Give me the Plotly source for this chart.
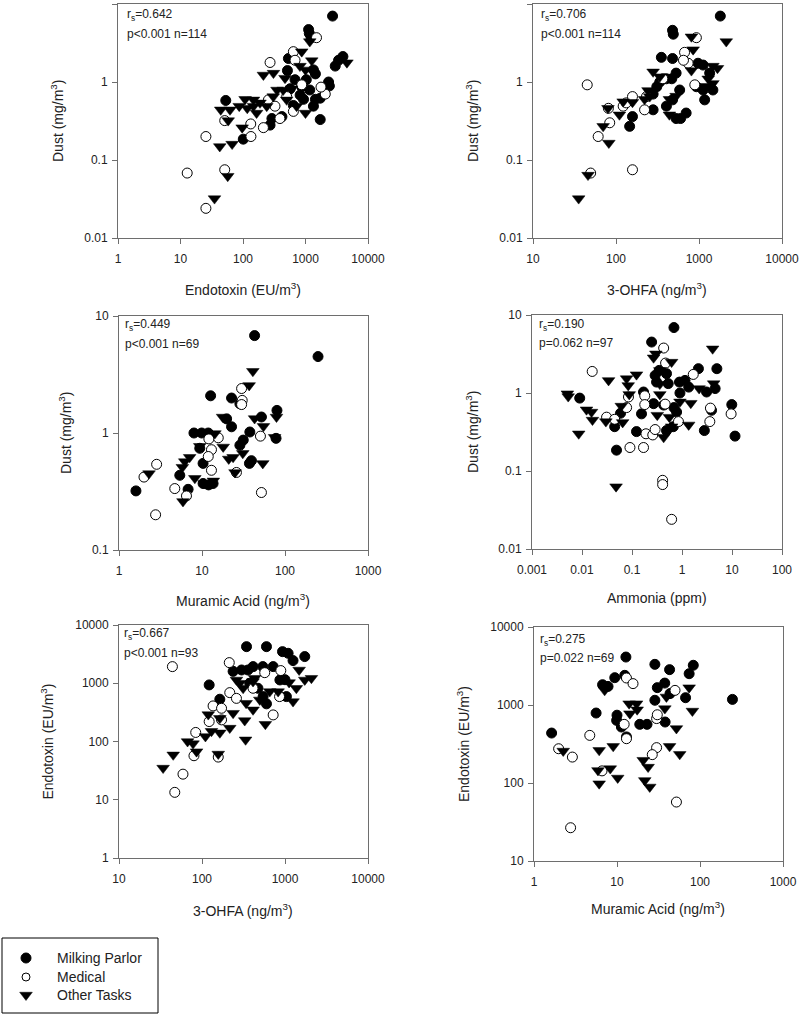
import math
import plotly.graph_objects as go

# ---------------- DATA ----------------
# Panel 1: Endotoxin (EU/m3) vs Dust (mg/m3)
p1_mp_x = [2710, 1120, 1150, 1230, 3970, 3380, 2990, 2340, 2410, 1720, 533, 514, 1340, 1440, 1030, 568, 820, 1440, 1340, 930, 53, 101, 271, 290, 420, 1170, 680, 1720, 870, 640]
p1_mp_y = [7.0, 4.7, 4.2, 3.7, 2.12, 1.9, 1.6, 1.0, 0.89, 0.33, 2.0, 1.4, 1.43, 1.27, 1.07, 0.82, 0.68, 0.6, 0.49, 0.6, 0.58, 0.185, 0.28, 0.34, 0.36, 0.79, 1.07, 0.62, 0.87, 0.5]
p1_md_x = [1500, 640, 680, 271, 2070, 1770, 640, 390, 212, 133, 134, 25.5, 12.8, 51, 25.5, 51, 255, 500, 325, 870]
p1_md_y = [3.7, 2.45, 1.9, 1.78, 0.7, 0.86, 0.42, 0.34, 0.26, 0.29, 0.2, 0.2, 0.068, 0.075, 0.024, 0.32, 0.59, 0.65, 0.49, 0.92]
p1_ot_x = [1170, 870, 1260, 212, 307, 4600, 815, 1000, 470, 350, 440, 600, 305, 187, 147, 108, 87, 117, 62, 44, 58, 97, 42.5, 67, 57, 35, 1000, 720, 240, 165, 500, 147]
p1_ot_y = [3.3, 2.45, 1.88, 1.23, 1.3, 1.77, 1.6, 1.43, 1.12, 0.79, 0.79, 0.82, 0.65, 0.54, 0.59, 0.6, 0.49, 0.46, 0.44, 0.44, 0.32, 0.26, 0.149, 0.16, 0.062, 0.032, 0.4, 0.49, 0.49, 0.4, 0.59, 0.49]

# Panel 2: 3-OHFA (ng/m3) vs Dust (mg/m3)
p2_mp_x = [1806, 480, 490, 352, 480, 973, 1120, 1345, 530, 405, 337, 310, 585, 930, 1120, 1470, 1170, 480, 280, 405, 146, 158, 530, 600, 700, 280, 470]
p2_mp_y = [7.0, 4.6, 4.1, 2.07, 2.0, 1.74, 1.65, 1.3, 1.3, 1.1, 1.0, 0.87, 0.79, 0.87, 0.79, 0.79, 0.59, 0.59, 0.44, 0.49, 0.27, 0.36, 0.34, 0.34, 0.40, 0.7, 1.1]
p2_md_x = [930, 670, 740, 650, 890, 45, 81, 84, 61, 49.5, 158, 221, 122, 133, 233, 158, 367]
p2_md_y = [3.7, 2.4, 1.74, 1.9, 0.92, 0.92, 0.46, 0.3, 0.2, 0.068, 0.075, 0.44, 0.49, 0.54, 0.65, 0.65, 1.1]
p2_ot_x = [2130, 850, 810, 1670, 1470, 1290, 1470, 1220, 530, 440, 440, 255, 221, 280, 337, 243, 158, 122, 110, 80, 70, 82, 46, 35.5, 810]
p2_ot_y = [3.3, 2.6, 3.8, 1.5, 1.6, 1.1, 0.96, 0.88, 0.66, 0.6, 0.38, 0.65, 0.6, 1.35, 1.17, 0.78, 0.55, 0.56, 0.38, 0.46, 0.27, 0.165, 0.064, 0.032, 1.4]

# Panel 3: Muramic Acid (ng/m3) vs Dust (mg/m3)
p3_mp_x = [43, 250, 12.7, 22.7, 28.6, 80, 19.8, 22.7, 52, 37.7, 8, 9.9, 11.9, 9.4, 10.3, 5.4, 6.8, 1.6, 28.6, 31.4, 39.4, 37.3, 78, 10.3, 13.6, 12]
p3_mp_y = [6.8, 4.5, 2.08, 1.99, 1.78, 1.56, 1.32, 1.13, 1.37, 1.02, 1.0, 1.0, 1.0, 0.74, 0.55, 0.435, 0.33, 0.32, 0.785, 0.87, 0.58, 0.55, 0.9, 0.37, 0.37, 0.36]
p3_md_x = [30, 30.5, 30, 15.7, 12.1, 13, 11.9, 13, 26, 50.6, 52, 2.84, 2.0, 4.7, 6.5, 2.76]
p3_md_y = [2.4, 1.9, 1.75, 0.91, 0.89, 0.72, 0.63, 0.48, 0.46, 0.94, 0.31, 0.54, 0.42, 0.335, 0.29, 0.2]
p3_ot_x = [41, 37, 17.7, 43, 55, 79, 75, 14.3, 9.4, 18, 21, 23.7, 31, 54, 25, 7.1, 6.2, 5.8, 8.2, 10.6, 13.7, 5.9, 2.3]
p3_ot_y = [3.37, 2.55, 1.37, 1.33, 1.14, 1.37, 0.92, 0.99, 0.77, 0.76, 0.6, 0.62, 0.67, 0.55, 0.46, 0.62, 0.57, 0.51, 0.41, 0.37, 0.39, 0.26, 0.45]

# Panel 4: Ammonia (ppm) vs Dust (mg/m3)
p4_mp_x = [0.69, 0.247, 2.13, 4.98, 0.29, 0.35, 0.49, 0.53, 0.31, 0.89, 1.15, 1.36, 4.6, 3.1, 0.91, 0.17, 0.27, 0.43, 0.69, 0.78, 0.67, 0.155, 0.059, 0.045, 0.123, 0.049, 0.009, 9.9, 11.5, 2.8, 3.9, 0.49]
p4_mp_y = [6.9, 4.5, 2.05, 2.05, 1.68, 1.95, 1.77, 1.32, 1.38, 1.38, 1.45, 1.19, 1.14, 1.03, 1.0, 1.03, 0.73, 0.7, 0.65, 0.57, 0.37, 0.54, 0.55, 0.37, 0.32, 0.185, 0.86, 0.71, 0.28, 0.33, 0.6, 0.33]
p4_md_x = [0.43, 0.47, 1.68, 0.016, 0.085, 0.078, 0.18, 0.18, 0.46, 0.85, 0.031, 0.045, 0.19, 0.26, 0.29, 0.091, 0.17, 0.41, 0.41, 0.62, 3.7, 3.6, 9.6]
p4_md_y = [3.77, 2.42, 1.73, 1.89, 0.89, 0.65, 0.92, 0.71, 0.72, 0.43, 0.49, 0.46, 0.3, 0.29, 0.34, 0.2, 0.2, 0.076, 0.067, 0.024, 0.64, 0.43, 0.54]
p4_ot_x = [4.1, 0.3, 0.27, 0.62, 0.36, 0.123, 0.078, 0.034, 0.084, 0.088, 0.36, 0.91, 1.5, 2.2, 4.3, 0.0051, 0.0053, 0.0123, 0.0155, 0.0162, 0.03, 0.061, 0.065, 0.0086, 0.43, 0.32, 0.56, 1.36, 0.62, 0.048, 0.36]
p4_ot_y = [3.69, 3.18, 2.83, 2.49, 1.95, 1.72, 1.53, 1.45, 1.25, 0.96, 0.96, 0.77, 0.74, 1.14, 1.32, 0.98, 0.9, 0.61, 0.57, 0.45, 0.43, 0.68, 0.42, 0.3, 0.27, 0.52, 0.49, 0.39, 0.37, 0.063, 1.3]

# Panel 5: 3-OHFA (ng/m3) vs Endotoxin (EU/m3)
p5_mp_x = [122, 164, 344, 598, 933, 1090, 1250, 1730, 413, 541, 720, 868, 1000, 358, 300, 376, 598, 1040, 472, 545, 237]
p5_mp_y = [936, 532, 4250, 4250, 3490, 3270, 2450, 2870, 1930, 1930, 1930, 1140, 1150, 1690, 1690, 1000, 443, 590, 820, 590, 1600]
p5_md_x = [44, 213, 570, 890, 860, 720, 216, 260, 136, 172, 122, 172, 84, 80, 157, 59, 47, 412]
p5_md_y = [1930, 2260, 1520, 1650, 590, 286, 690, 550, 408, 372, 220, 235, 143, 57, 54, 27.5, 13.4, 820]
p5_ot_x = [34, 45, 67, 78, 86, 110, 130, 164, 157, 216, 237, 119, 164, 327, 335, 580, 340, 412, 497, 285, 313, 412, 655, 826, 1120, 1250, 1370, 1480, 1730, 2080, 260, 430]
p5_ot_y = [35, 59, 100, 92, 67, 122, 150, 141, 61, 170, 306, 290, 250, 229, 107, 198, 454, 350, 518, 1000, 820, 1070, 720, 720, 1030, 485, 820, 1690, 1140, 1220, 1140, 1220]

# Panel 6: Muramic Acid (ng/m3) vs Endotoxin (EU/m3)
p6_mp_x = [1.63, 5.6, 6.7, 7.8, 9.4, 12.4, 12.8, 28.6, 43, 83, 74, 246, 28.6, 30.6, 37.6, 43.5, 67, 10, 9.9, 18.8, 23, 38, 13, 11.3]
p6_mp_y = [437, 789, 1820, 1730, 2240, 2400, 4120, 3320, 2840, 3230, 2520, 1180, 1150, 1670, 1910, 1400, 1240, 740, 635, 565, 565, 605, 390, 522]
p6_md_x = [13, 15.6, 50, 12.2, 13, 30, 30.6, 30, 26.6, 4.7, 1.98, 2.9, 6.6, 2.76, 52]
p6_md_y = [2220, 1880, 1540, 565, 370, 670, 750, 284, 231, 408, 275, 215, 143, 26.7, 57]
p6_ot_x = [2.25, 6.1, 5.9, 6.1, 9, 8.3, 10.2, 7.1, 14, 14.3, 17.2, 17.5, 37.7, 20.7, 21.6, 23.7, 24.8, 43, 52, 57, 74, 81, 39.4]
p6_ot_y = [257, 262, 145, 98, 295, 153, 116, 1540, 1040, 775, 1040, 870, 900, 196, 108, 160, 89, 295, 500, 233, 1670, 837, 1270]

group_names = ["Milking Parlor", "Medical", "Other Tasks"]

stats_r = ["0.642", "0.706", "0.449", "0.190", "0.667", "0.275"]
stats_p = ["p<0.001 n=114", "p<0.001 n=114", "p<0.001 n=69", "p=0.062 n=97", "p<0.001 n=93", "p=0.022 n=69"]

x_titles = ["Endotoxin (EU/m<sup>3</sup>)", "3-OHFA (ng/m<sup>3</sup>)", "Muramic Acid (ng/m<sup>3</sup>)",
            "Ammonia (ppm)", "3-OHFA (ng/m<sup>3</sup>)", "Muramic Acid (ng/m<sup>3</sup>)"]
y_titles = ["Dust (mg/m<sup>3</sup>)", "Dust (mg/m<sup>3</sup>)", "Dust (mg/m<sup>3</sup>)",
            "Dust (mg/m<sup>3</sup>)", "Endotoxin (EU/m<sup>3</sup>)", "Endotoxin (EU/m<sup>3</sup>)"]

x_ticks = [[1, 10, 100, 1000, 10000], [10, 100, 1000, 10000], [1, 10, 100, 1000],
           [0.001, 0.01, 0.1, 1, 10, 100], [10, 100, 1000, 10000], [1, 10, 100, 1000]]
x_ticktext = [["1", "10", "100", "1000", "10000"], ["10", "100", "1000", "10000"], ["1", "10", "100", "1000"],
              ["0.001", "0.01", "0.1", "1", "10", "100"], ["10", "100", "1000", "10000"], ["1", "10", "100", "1000"]]
y_ticks = [[0.01, 0.1, 1, 10], [0.01, 0.1, 1, 10], [0.1, 1, 10],
           [0.01, 0.1, 1, 10], [1, 10, 100, 1000, 10000], [10, 100, 1000, 10000]]
y_ticktext = [["0.01", "0.1", "1", "10"], ["0.01", "0.1", "1", "10"], ["0.1", "1", "10"],
              ["0.01", "0.1", "1", "10"], ["1", "10", "100", "1000", "10000"], ["10", "100", "1000", "10000"]]

panel_data = [
    [(p1_mp_x, p1_mp_y), (p1_md_x, p1_md_y), (p1_ot_x, p1_ot_y)],
    [(p2_mp_x, p2_mp_y), (p2_md_x, p2_md_y), (p2_ot_x, p2_ot_y)],
    [(p3_mp_x, p3_mp_y), (p3_md_x, p3_md_y), (p3_ot_x, p3_ot_y)],
    [(p4_mp_x, p4_mp_y), (p4_md_x, p4_md_y), (p4_ot_x, p4_ot_y)],
    [(p5_mp_x, p5_mp_y), (p5_md_x, p5_md_y), (p5_ot_x, p5_ot_y)],
    [(p6_mp_x, p6_mp_y), (p6_md_x, p6_md_y), (p6_ot_x, p6_ot_y)],
]

# ---------------- LAYOUT (pixels) ----------------
W, H = 800, 1014
boxes = [(118, 368, 4, 238), (533, 782, 4, 238),
         (119, 368, 316, 550), (532, 782, 315, 549),
         (119, 368, 625, 858), (534, 783, 627, 861)]
x_title_pos = [(243, 289), (657, 289), (243, 600), (657, 598), (243, 910), (658, 908)]
y_title_x = [57, 472, 65, 472, 47, 463]
stat_pos = [(125, 15, 34), (539, 15, 34), (123, 325, 344), (537, 325, 343), (122, 634, 653), (538, 640, 658)]

# legend box (pixels)
LEG = dict(x0=2, x1=158, y0=938, y1=1013)
LEG_ROWS = [958, 977, 995]
LEG_MARK_X = 26
LEG_TEXT_X = 55


def fx(p):
    return p / W


def fy(p):
    return 1 - p / H


FONT = "Liberation Sans, Arial, sans-serif"
TXT = "#222222"
AX = "#6e6e6e"

marker_styles = [
    dict(symbol="circle", size=10, color="black", line=dict(color="black", width=1)),
    dict(symbol="circle", size=10, color="white", line=dict(color="black", width=1)),
    dict(symbol="triangle-down", size=11, color="black", line=dict(color="black", width=0.5)),
]

fig = go.Figure()
annotations = []
layout_axes = {}

for i in range(6):
    n = i + 1
    xa = "x" if n == 1 else f"x{n}"
    ya = "y" if n == 1 else f"y{n}"
    for g in range(3):
        xs, ys = panel_data[i][g]
        fig.add_trace(go.Scatter(
            x=xs, y=ys, mode="markers", xaxis=xa, yaxis=ya,
            name=group_names[g], showlegend=False,
            marker=marker_styles[g], cliponaxis=False))
    x0, x1, yt, yb = boxes[i]
    xt = x_ticks[i]
    yv = y_ticks[i]
    common = dict(type="log", showline=True, linecolor=AX, linewidth=1, mirror=True,
                  ticks="outside", ticklen=5, tickcolor=AX, showgrid=False, zeroline=False,
                  automargin=False,
                  tickfont=dict(family=FONT, size=12, color=TXT), tickmode="array")
    layout_axes["xaxis" if n == 1 else f"xaxis{n}"] = dict(
        common, domain=[fx(x0), fx(x1)], anchor=ya,
        range=[math.log10(xt[0]), math.log10(xt[-1])],
        tickvals=xt, ticktext=x_ticktext[i], ticklabelstandoff=5)
    layout_axes["yaxis" if n == 1 else f"yaxis{n}"] = dict(
        common, domain=[fy(yb), fy(yt)], anchor=xa,
        range=[math.log10(yv[0]), math.log10(yv[-1])],
        tickvals=yv, ticktext=y_ticktext[i], ticklabelstandoff=2)

    tx, ty = x_title_pos[i]
    annotations.append(dict(x=fx(tx), y=fy(ty), xref="paper", yref="paper", text=x_titles[i],
                            showarrow=False, xanchor="center", yanchor="middle",
                            font=dict(family=FONT, size=14, color=TXT)))
    annotations.append(dict(x=fx(y_title_x[i]), y=fy((yt + yb) / 2), xref="paper", yref="paper",
                            text=y_titles[i], textangle=-90, showarrow=False,
                            xanchor="center", yanchor="middle",
                            font=dict(family=FONT, size=14, color=TXT)))
    sx, sy1, sy2 = stat_pos[i]
    annotations.append(dict(x=fx(sx), y=fy(sy1), xref="paper", yref="paper",
                            text=f"r<sub>s</sub>={stats_r[i]}", showarrow=False,
                            xanchor="left", yanchor="middle",
                            font=dict(family=FONT, size=12, color=TXT)))
    annotations.append(dict(x=fx(sx), y=fy(sy2), xref="paper", yref="paper",
                            text=stats_p[i], showarrow=False,
                            xanchor="left", yanchor="middle",
                            font=dict(family=FONT, size=12, color=TXT)))

# ---- legend drawn as a boxed key on its own hidden axes (pixel units) ----
layout_axes["xaxis7"] = dict(domain=[0, 1], range=[0, W], visible=False, anchor="y7",
                             fixedrange=True, automargin=False)
layout_axes["yaxis7"] = dict(domain=[0, 1], range=[H, 0], visible=False, anchor="x7",
                             fixedrange=True, automargin=False)
leg_styles = [
    dict(symbol="circle", size=10, color="black", line=dict(color="black", width=1)),
    dict(symbol="circle", size=8, color="white", line=dict(color="black", width=1)),
    dict(symbol="triangle-down", size=11, color="black", line=dict(color="black", width=0.5)),
]
for g in range(3):
    fig.add_trace(go.Scatter(x=[LEG_MARK_X], y=[LEG_ROWS[g]], mode="markers", xaxis="x7", yaxis="y7",
                             marker=leg_styles[g], showlegend=False, hoverinfo="skip"))
    annotations.append(dict(x=fx(LEG_TEXT_X), y=fy(LEG_ROWS[g]), xref="paper", yref="paper",
                            text=group_names[g], showarrow=False, xanchor="left", yanchor="middle",
                            font=dict(family=FONT, size=14, color=TXT)))

shapes = [dict(type="rect", xref="paper", yref="paper",
               x0=fx(LEG["x0"]), x1=fx(LEG["x1"]), y0=fy(LEG["y1"]), y1=fy(LEG["y0"]),
               line=dict(color="black", width=1), fillcolor="rgba(0,0,0,0)")]

fig.update_layout(
    width=W, height=H, margin=dict(l=0, r=0, t=0, b=0, pad=0, autoexpand=False),
    paper_bgcolor="white", plot_bgcolor="rgba(0,0,0,0)",
    annotations=annotations, shapes=shapes, showlegend=False,
    **layout_axes,
)

fig.write_html(
    "out.html",
    config={"displayModeBar": False, "staticPlot": True},
    post_script="document.body.style.margin='0px';document.body.style.overflow='hidden';",
)
